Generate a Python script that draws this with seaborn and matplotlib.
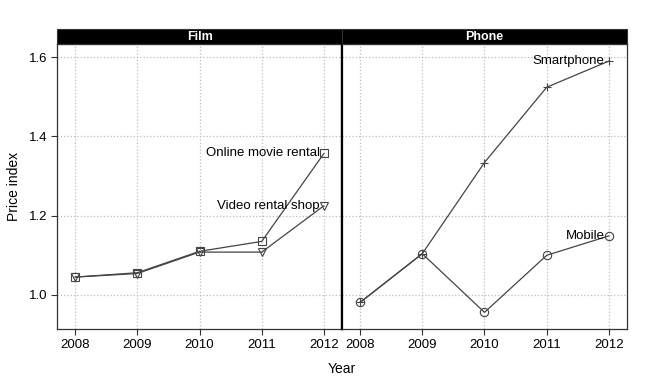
import numpy as np
import pandas as pd
import matplotlib
matplotlib.use("Agg")
from matplotlib import pyplot as plt
from matplotlib.patches import Rectangle
import seaborn as sns

# 데이터
years = [2008, 2009, 2010, 2011, 2012]
online_movie = [1.045, 1.056, 1.110, 1.135, 1.357]
video_shop = [1.045, 1.054, 1.108, 1.108, 1.225]
smartphone = [0.981, 1.104, 1.334, 1.524, 1.590]
mobile = [0.981, 1.104, 0.956, 1.100, 1.149]

panels = ["Film", "Phone"]
series_by_panel = {
    "Film": [("Online movie rental", online_movie), ("Video rental shop", video_shop)],
    "Phone": [("Smartphone", smartphone), ("Mobile", mobile)],
}
marker_map = {"Online movie rental": "s", "Video rental shop": "v",
              "Smartphone": "+", "Mobile": "o"}

rows = []
for p in panels:
    for name, vals in series_by_panel[p]:
        for y, v in zip(years, vals):
            rows.append({"panel": p, "series": name, "Year": y, "Price index": v})
df = pd.DataFrame(rows)

sns.set_style("white")
plt.rcParams['font.family'] = ['Liberation Sans', 'DejaVu Sans']
plt.rcParams['text.color'] = 'black'
plt.rcParams['xtick.labelcolor'] = 'black'
plt.rcParams['ytick.labelcolor'] = 'black'

fig, axes = plt.subplots(1, 2, sharey=True, figsize=(6.5, 3.84), dpi=100)
fig.subplots_adjust(left=0.0877, right=0.9646, top=0.8854, bottom=0.1432, wspace=0)

line_col = "#444444"
for ax, p in zip(axes, panels):
    sub = df[df["panel"] == p]
    for name, _ in series_by_panel[p]:
        s = sub[sub["series"] == name]
        # 시리즈별 선 + 마커
        sns.lineplot(data=s, x="Year", y="Price index", marker=marker_map[name],
                     color=line_col, linewidth=0.9, markersize=6,
                     markerfacecolor="none", markeredgecolor=line_col,
                     markeredgewidth=0.8, legend=False, ax=ax)
        last = s.sort_values("Year").iloc[-1]
        ax.annotate(name, (last["Year"], last["Price index"]), xytext=(-3, 0),
                    textcoords="offset points", ha="right", va="center", fontsize=9.5,
                    color="black")
    ax.set_xlim(2007.71, 2012.29)
    ax.set_ylim(0.914, 1.633)
    ax.set_xticks(years)
    ax.set_yticks([1.0, 1.2, 1.4, 1.6])
    ax.set_yticklabels(["1.0", "1.2", "1.4", "1.6"])
    ax.grid(True, color="#bdbdbd", linestyle=":", linewidth=0.9)
    for sp in ax.spines.values():
        sp.set_color("#333333")
        sp.set_linewidth(0.9)
    ax.tick_params(axis="both", which="both", direction="out", length=4, width=0.8,
                   color="#333333", labelsize=9.5, pad=3)
    ax.tick_params(left=(p == "Film"), bottom=True)
    ax.set_xlabel("")
    ax.set_ylabel("")
    # 스트립
    ax.add_patch(Rectangle((0, 1.0), 1, 0.0526, transform=ax.transAxes, facecolor="black",
                           edgecolor="#333333", linewidth=0.8, clip_on=False))
    ax.text(0.5, 1.0263, p, transform=ax.transAxes, ha="center", va="center",
            color="white", fontweight="bold", fontsize=9)

# 가운데 경계선 굵게
axes[0].spines["right"].set_linewidth(1.6)
axes[0].spines["right"].set_color("black")
axes[1].spines["left"].set_linewidth(1.6)
axes[1].spines["left"].set_color("black")

fig.text(0.526, 0.04, "Year", ha="center", va="center", fontsize=10)
fig.text(0.022, 0.515, "Price index", ha="center", va="center", rotation=90, fontsize=10)

fig.savefig("out.png", dpi=100)
